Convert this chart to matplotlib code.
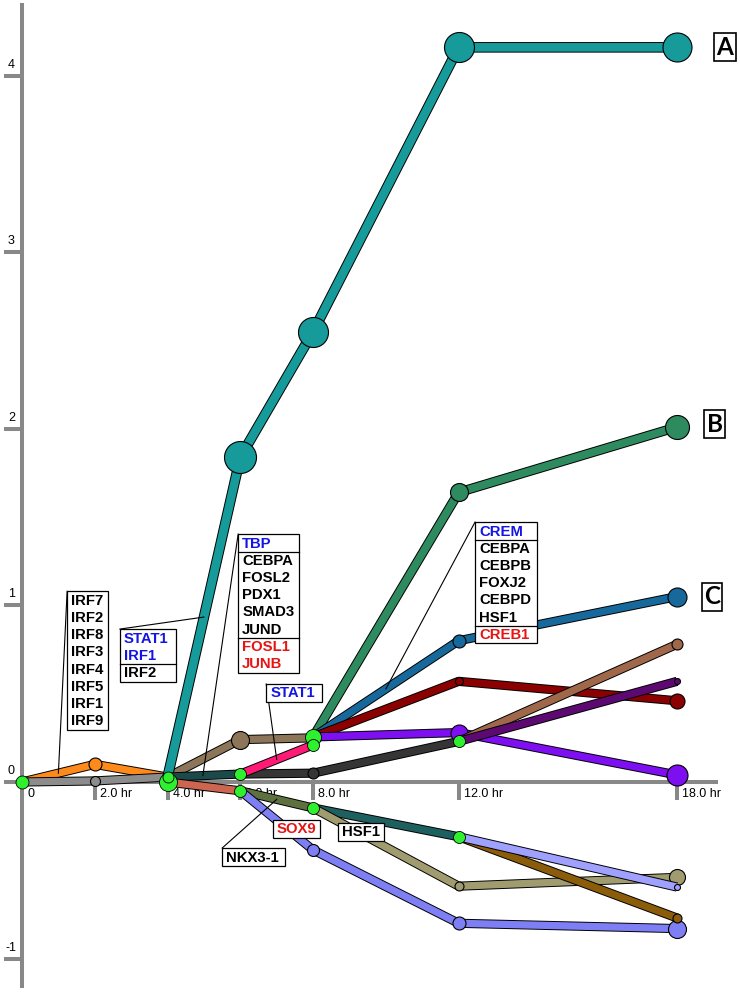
import matplotlib
matplotlib.use("Agg")
import matplotlib.pyplot as plt
import matplotlib.patheffects as pe
from matplotlib.patches import Rectangle
import numpy as np

# ---- data ----
times = [0, 2, 4, 6, 8, 12, 18]
time_labels = ['0', '2.0 hr', '4.0 hr', '6.0 hr', '8.0 hr', '12.0 hr', '18.0 hr']
y_ticks = [-1, 0, 1, 2, 3, 4]

# paths: time points, values, node diameters (px, 0 = no node)
orange_t = [0, 2, 4];            orange_v = [0, 0.10, 0.028];        orange_n = [0, 13, 0]
gray_t = [0, 2, 4];              gray_v = [0, 0.006, 0.028];         gray_n = [0, 10, 0]
tan_t = [4, 6, 8];               tan_v = [0.028, 0.24, 0.25];        tan_n = [0, 18, 0]
teal_t = [4, 6, 8, 12, 18];      teal_v = [0.028, 1.84, 2.55, 4.16, 4.16]; teal_n = [0, 32, 30, 30, 29]
dkteal_t = [4, 6];               dkteal_v = [0.028, 0.045];          dkteal_n = [0, 0]
salmon_t = [4, 6];               salmon_v = [0.0, -0.05];            salmon_n = [0, 0]
black_t = [6, 8, 12];            black_v = [0.045, 0.05, 0.23];      black_n = [0, 11, 0]
pink_t = [6, 8];                 pink_v = [0.045, 0.21];             pink_n = [0, 0]
sea_t = [8, 12, 18];             sea_v = [0.255, 1.64, 2.01];        sea_n = [0, 18, 24]
blue_t = [8, 12, 18];            blue_v = [0.255, 0.80, 1.05];       blue_n = [0, 13, 19]
dkred_t = [8, 12, 18];           dkred_v = [0.255, 0.57, 0.46];      dkred_n = [0, 8, 15]
purple_t = [8, 12, 18];          purple_v = [0.255, 0.28, 0.04];     purple_n = [0, 17, 21]
brown_t = [12, 18];              brown_v = [0.23, 0.78];             brown_n = [0, 11]
dkpurp_t = [12, 18];             dkpurp_v = [0.23, 0.57];            dkpurp_n = [0, 6]
olive_t = [6, 8];                olive_v = [-0.05, -0.147];          olive_n = [0, 0]
peri_t = [6, 8, 12, 18];         peri_v = [-0.05, -0.385, -0.80, -0.83]; peri_n = [0, 12, 13, 18]
dkteal2_t = [8, 12];             dkteal2_v = [-0.147, -0.31];        dkteal2_n = [0, 0]
khaki_t = [8, 12, 18];           khaki_v = [-0.147, -0.59, -0.54];   khaki_n = [0, 9, 16]
gold_t = [12, 18];               gold_v = [-0.31, -0.77];            gold_n = [0, 9]
ltperi_t = [12, 18];             ltperi_v = [-0.31, -0.595];         ltperi_n = [0, 6]

# green split nodes: time, value, diameter
green_t = [0, 4, 4, 6, 6, 8, 8, 8, 12, 12]
green_v = [0, 0.0, 0.028, 0.045, -0.05, 0.255, 0.21, -0.147, 0.23, -0.31]
green_n = [13, 18, 11, 12, 12, 16, 12, 12, 12, 12]

paths = [
    (orange_t, orange_v, orange_n, '#ff8a1c', 5.2),
    (gray_t, gray_v, gray_n, '#8c8c8c', 5.2),
    (tan_t, tan_v, tan_n, '#8c7558', 5.2),
    (teal_t, teal_v, teal_n, '#169a9a', 6.2),
    (dkteal_t, dkteal_v, dkteal_n, '#1c4a4a', 5.2),
    (salmon_t, salmon_v, salmon_n, '#cc6650', 5.2),
    (black_t, black_v, black_n, '#353535', 5.2),
    (pink_t, pink_v, pink_n, '#ff1a75', 5.2),
    (sea_t, sea_v, sea_n, '#2e8b5f', 5.6),
    (blue_t, blue_v, blue_n, '#16699a', 5.2),
    (dkred_t, dkred_v, dkred_n, '#8b0000', 5.2),
    (purple_t, purple_v, purple_n, '#7d0ff0', 5.2),
    (brown_t, brown_v, brown_n, '#a0684a', 5.2),
    (dkpurp_t, dkpurp_v, dkpurp_n, '#5c0a72', 5.2),
    (olive_t, olive_v, olive_n, '#5e7040', 5.2),
    (peri_t, peri_v, peri_n, '#7f7ff5', 5.2),
    (dkteal2_t, dkteal2_v, dkteal2_n, '#1e6060', 5.2),
    (khaki_t, khaki_v, khaki_n, '#a09c70', 5.2),
    (gold_t, gold_v, gold_n, '#8b5c0a', 5.2),
    (ltperi_t, ltperi_v, ltperi_n, '#a0a0ff', 5.2),
]

# regulator boxes: left (hr), top (value), width px, groups
irf_box = (1.24, 1.08, 41, [('black', ['IRF7', 'IRF2', 'IRF8', 'IRF3', 'IRF4', 'IRF5', 'IRF1', 'IRF9'])])
stat_box = (2.69, 0.866, 56, [('#1414e6', ['STAT1', 'IRF1']), ('black', ['IRF2'])])
tbp_box = (5.94, 1.404, 61, [('#1414e6', ['TBP']),
                             ('black', ['CEBPA', 'FOSL2', 'PDX1', 'SMAD3', 'JUND']),
                             ('#e61414', ['FOSL1', 'JUNB'])])
stat2_box = (6.71, 0.555, 56, [('#1414e6', ['STAT1'])])
crem_box = (12.45, 1.472, 62, [('#1414e6', ['CREM']),
                               ('black', ['CEBPA', 'CEBPB', 'FOXJ2', 'CEBPD', 'HSF1']),
                               ('#e61414', ['CREB1'])])
sox_box = (6.90, -0.215, 47, [('#e61414', ['SOX9'])])
hsf_box = (8.68, -0.232, 46, [('black', ['HSF1'])])
nkx_box = (5.50, -0.374, 63, [('black', ['NKX3-1'])])

# ---- layout ----
PX_HR = 36.39
PX_UNIT = 176.6


def dx(px):
    return px / PX_HR


def dy(px):
    return px / PX_UNIT


fig = plt.figure(figsize=(7.4, 9.93), dpi=100)
ax = fig.add_axes([0, 0, 1, 1])
ax.set_xlim(-dx(22), dx(718))
ax.set_ylim(-dy(211), dy(782))
ax.axis('off')

axis_col = '#888888'
ax.plot([0, 0], [dy(779), -dy(206)], color=axis_col, lw=2.9, solid_capstyle='butt', zorder=1)
ax.plot([0, dx(696)], [0, 0], color=axis_col, lw=2.9, solid_capstyle='butt', zorder=1)
for v in y_ticks:
    ax.plot([-dx(18), 0], [v, v], color=axis_col, lw=2.9, solid_capstyle='butt', zorder=1)
    ax.text(-dx(10.5), v + dy(8), str(v), ha='center', va='baseline', fontsize=9,
            family='Liberation Sans')
for t, lab in zip(times, time_labels):
    if t > 0:
        ax.plot([t, t], [0, -dy(18)], color=axis_col, lw=2.9, solid_capstyle='butt', zorder=1)
    ax.text(t + dx(5), -dy(6), lab, ha='left', va='top', fontsize=9, family='Liberation Sans')

z = 3
for t, v, n, col, lw in paths:
    ax.plot(t, v, color=col, lw=lw, solid_capstyle='butt', zorder=z,
            path_effects=[pe.Stroke(linewidth=lw + 1.4, foreground='black'), pe.Normal()])
    for ti, vi, d in zip(t, v, n):
        if d > 0:
            ax.plot(ti, vi, 'o', ms=d * 0.72, mfc=col, mec='black', mew=0.8, zorder=z + 0.5)
    z += 1

for ti, vi, d in zip(green_t, green_v, green_n):
    ax.plot(ti, vi, 'o', ms=d * 0.72, mfc='#2ef02e', mec='black', mew=0.6, zorder=40)


def label_box(box, anchor=None):
    x0, y0, w, groups = box
    line_h = 17.2
    n = sum(len(g[1]) for g in groups)
    h = n * line_h + 1
    if anchor is not None:
        at, av = anchor
        ax.plot([x0, at], [y0, av], color='black', lw=0.8, zorder=45)
    ax.add_patch(Rectangle((x0, y0 - dy(h)), dx(w), dy(h), fc='white', ec='black',
                           lw=0.9, zorder=46))
    yy = y0 - dy(0.5)
    for k, (col, names) in enumerate(groups):
        if k > 0:
            ax.plot([x0, x0 + dx(w)], [yy, yy], color='black', lw=0.9, zorder=47)
        for name in names:
            ax.text(x0 + dx(4), yy - dy(13), name, color=col, fontsize=10.7,
                    fontweight='bold', ha='left', va='baseline', zorder=48,
                    family='Liberation Sans')
            yy -= dy(line_h)


def on_path(t, v, at):
    return at, float(np.interp(at, t, v))


label_box(irf_box, on_path(orange_t, orange_v, 1.0))
label_box(stat_box, on_path(teal_t, teal_v, 5.0))
label_box(tbp_box, on_path(dkteal_t, dkteal_v, 4.97))
label_box(stat2_box, on_path(pink_t, pink_v, 7.0))
label_box(crem_box, on_path(blue_t, blue_v, 10.0))
label_box(nkx_box, on_path(olive_t, olive_v, 7.0))
label_box(sox_box)
label_box(hsf_box)

# cluster letters
for letter, lx, v in [('A', 19.32, teal_v[-1]), ('B', 19.04, sea_v[-1] + 0.015),
                      ('C', 18.96, blue_v[-1])]:
    ax.text(lx, v, letter, ha='center', va='center', fontsize=17.5, family='Lato',
            fontweight='bold', zorder=50,
            bbox=dict(boxstyle='square,pad=0.1', fc='white', ec='black', lw=1.2))

fig.savefig('out.png', dpi=100)
